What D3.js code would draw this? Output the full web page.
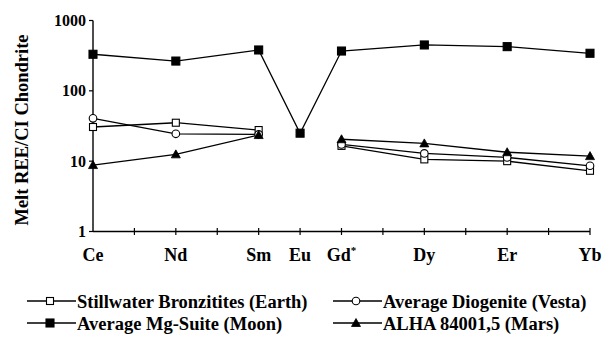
<!DOCTYPE html>
<html><head><meta charset="utf-8">
<script src="https://cdn.jsdelivr.net/npm/d3@7"></script>
<style>body{margin:0;background:#fff}svg{display:block}text{font-family:"Liberation Serif","Times New Roman",serif;font-weight:bold;fill:#000}</style>
</head><body><svg id="c" width="609" height="337"></svg>
<script>
// Atomic numbers for positions along x
const elements = ["Ce","Nd","Sm","Eu","Gd*","Dy","Er","Yb"];
const atomicNumbers = [58,60,62,63,64,66,68,70];
const yTicks = [1,10,100,1000];
// null = no data (line breaks)
const earth = [30.6,35.2,27.7,null,16.5,10.6,10.0,7.3];
const vesta = [40.6,24.5,24.0,null,17.3,12.9,11.3,8.6];
const moon  = [331,265,381,25,368,449,425,342];
const mars  = [8.8,12.5,23.5,null,20.5,17.9,13.4,11.8];

const series = [
  {name:"Stillwater Bronzitites (Earth)", values:earth, sym:"square", fill:"#fff"},
  {name:"Average Diogenite (Vesta)", values:vesta, sym:"circle", fill:"#fff"},
  {name:"Average Mg-Suite (Moon)", values:moon, sym:"square", fill:"#000"},
  {name:"ALHA 84001,5 (Mars)", values:mars, sym:"triangle", fill:"#000"}
];

const svg = d3.select("#c");
const x = d3.scaleLinear().domain([58,70]).range([93,590]);
const y = d3.scaleLog().domain([1,1000]).range([231.5,20.5]);

// axes
const gx = svg.append("g").attr("transform","translate(0,231.5)");
gx.append("line").attr("x1",x(58)).attr("x2",x(70)).attr("stroke","#000").attr("stroke-width",1.4);
gx.selectAll("line.t").data(d3.range(59,71)).join("line").attr("class","t")
  .attr("x1",d=>x(d)).attr("x2",d=>x(d)).attr("y1",-3.5).attr("y2",3.5).attr("stroke","#000").attr("stroke-width",1.2);
gx.selectAll("text").data(elements).join("text")
  .attr("x",(d,i)=>x(atomicNumbers[i])).attr("y",29.5).attr("text-anchor","middle")
  .style("font-size","18px")
  .each(function(d){
    const t=d3.select(this);
    if(d.endsWith("*")){t.text(d.slice(0,-1));t.append("tspan").attr("dy",-7).style("font-size","11px").text("*");}
    else t.text(d);
  });

const gy = svg.append("g").attr("transform","translate(93,0)");
gy.append("line").attr("y1",y(1)).attr("y2",y(1000)).attr("stroke","#000").attr("stroke-width",1.4);
gy.selectAll("line.t").data(yTicks).join("line").attr("class","t")
  .attr("x1",-4).attr("x2",0).attr("y1",d=>y(d)).attr("y2",d=>y(d)).attr("stroke","#000").attr("stroke-width",1.2);
gy.selectAll("text").data(yTicks).join("text")
  .attr("x",-7).attr("y",d=>y(d)+5.5).attr("text-anchor","end").style("font-size","16px").text(d=>d);

svg.append("text").attr("transform","translate(27.5,130) rotate(-90)").attr("text-anchor","middle")
  .style("font-size","18.5px").text("Melt REE/CI Chondrite");

// lines
const line = d3.line().defined(d=>d.v!=null).x(d=>x(d.z)).y(d=>y(d.v));
function symbol(g,s,cx,cy){
  if(s.sym==="square"){
    const a = s.fill==="#000"?8:7;
    g.append("rect").attr("x",cx-a/2).attr("y",cy-a/2).attr("width",a).attr("height",a)
      .attr("fill",s.fill).attr("stroke","#000").attr("stroke-width",1.1);
  } else if(s.sym==="circle"){
    g.append("circle").attr("cx",cx).attr("cy",cy).attr("r",3.8).attr("fill",s.fill).attr("stroke","#000").attr("stroke-width",1.1);
  } else {
    g.append("path").attr("d",`M${cx},${cy-4.5}L${cx+4.5},${cy+3.5}L${cx-4.5},${cy+3.5}Z`).attr("fill",s.fill).attr("stroke","#000").attr("stroke-width",0.8);
  }
}
series.forEach(s=>{
  const pts = s.values.map((v,i)=>({z:atomicNumbers[i],v}));
  svg.append("path").datum(pts).attr("d",line).attr("fill","none").attr("stroke","#000").attr("stroke-width",1.3);
});
series.forEach(s=>{
  const g = svg.append("g");
  s.values.forEach((v,i)=>{ if(v!=null) symbol(g,s,x(atomicNumbers[i]),y(v)); });
});

// legend
const legPos = [[27,301],[333,301],[27,323],[333,323]];
series.forEach((s,i)=>{
  const [lx,ly]=legPos[i];
  const g = svg.append("g");
  g.append("line").attr("x1",lx).attr("x2",lx+49).attr("y1",ly).attr("y2",ly).attr("stroke","#000").attr("stroke-width",1.3);
  symbol(g,s,lx+23,ly);
  g.append("text").attr("x",lx+50).attr("y",ly+6.5).style("font-size","18.5px").text(s.name);
});
</script></body></html>
